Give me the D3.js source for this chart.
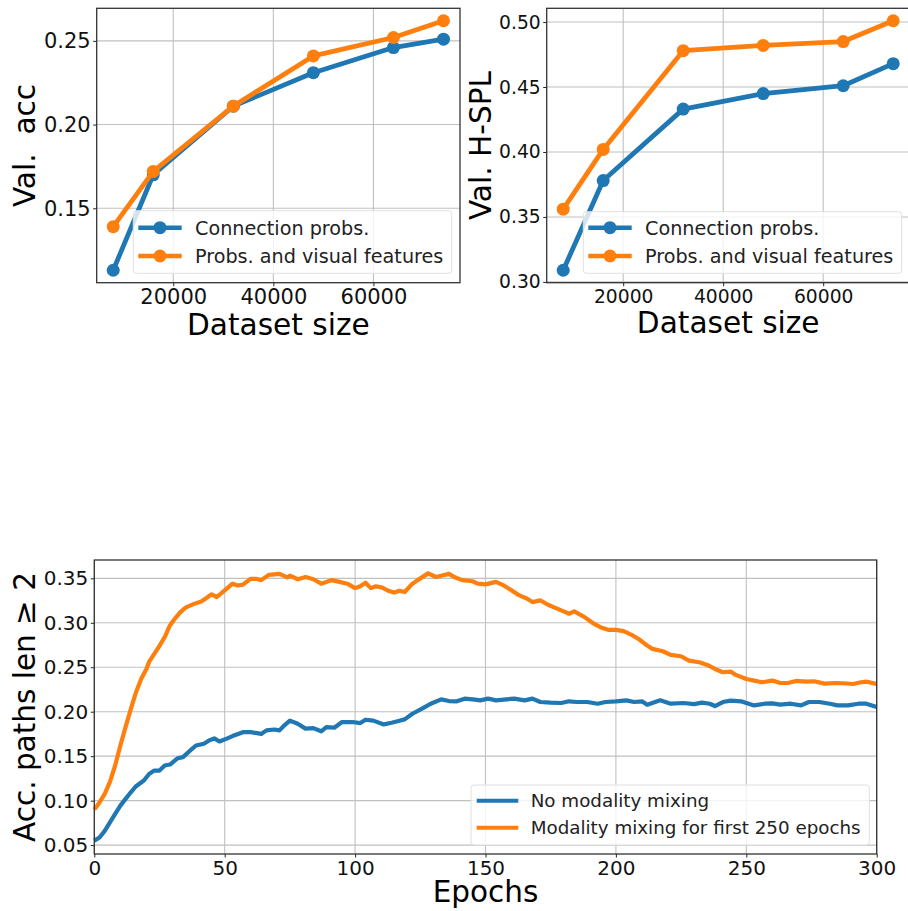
<!DOCTYPE html>
<html>
<head>
<meta charset="utf-8">
<script src="https://cdn.jsdelivr.net/npm/d3@7"></script>
<style>
  html, body { margin: 0; padding: 0; background: #fff; overflow: hidden; }
  svg { display: block; font-family: "DejaVu Sans", sans-serif; }
</style>
</head>
<body>
<svg id="chart" width="908" height="911"></svg>
<script>
// ---------- DATA ----------
const datasetSizes = [8000, 16000, 32000, 48000, 64000, 74000];
const accConnProbs = [0.113, 0.170, 0.211, 0.231, 0.246, 0.251];
const accProbsVisual = [0.139, 0.172, 0.211, 0.241, 0.252, 0.262];
const hsplConnProbs = [0.309, 0.378, 0.433, 0.445, 0.451, 0.468];
const hsplProbsVisual = [0.356, 0.402, 0.478, 0.482, 0.485, 0.501];
const topLegendLabels = ["Connection probs.", "Probs. and visual features"];
const sizeTicks = [20000, 40000, 60000];
const accTicks = [0.15, 0.20, 0.25];
const hsplTicks = [0.30, 0.35, 0.40, 0.45, 0.50];

const noMixEpochs = [0,2,4,6,8,10,12,14,16,19,21,23,25,27,29,32,34,37,39,42,44,46,48,51,53,57,60,64,66,69,71,73,75,78,81,84,87,89,92,95,99,102,104,107,111,114,117,119,122,126,129,133,136,139,142,146,148,151,154,158,161,165,168,171,175,179,182,185,189,193,196,200,204,207,210,212,217,221,226,230,233,236,238,241,244,248,250,253,257,260,263,267,271,274,278,282,285,289,293,296,300];
const noMixValues = [0.055,0.0586,0.066,0.0756,0.085,0.0944,0.102,0.1094,0.1162,0.1226,0.130,0.1338,0.1338,0.1395,0.1406,0.1477,0.1489,0.157,0.162,0.164,0.1677,0.170,0.1665,0.170,0.1726,0.177,0.177,0.175,0.179,0.180,0.179,0.185,0.190,0.1865,0.181,0.1816,0.178,0.1827,0.182,0.1884,0.1884,0.1872,0.191,0.190,0.1857,0.1876,0.1898,0.1914,0.1977,0.204,0.209,0.2139,0.212,0.2117,0.2147,0.2135,0.2128,0.2147,0.2128,0.2139,0.2147,0.2128,0.2147,0.2109,0.2102,0.2098,0.2117,0.2109,0.2109,0.209,0.2109,0.2117,0.2128,0.2109,0.2117,0.2079,0.2128,0.209,0.2098,0.2086,0.2102,0.209,0.2064,0.2109,0.2124,0.2117,0.2098,0.2071,0.209,0.2094,0.2079,0.209,0.2071,0.2109,0.2109,0.209,0.2071,0.2071,0.209,0.209,0.2053];

const mixEpochs = [0,2,4,6,8,10,12,14,16,18,20,21,23,25,27,29,31,33,35,38,41,43,45,47,50,53,55,57,60,62,64,67,71,74,75,78,81,84,87,91,94,97,100,102,104,106,108,110,113,115,117,119,122,124,128,131,133,136,138,141,145,147,150,154,157,160,163,166,168,171,174,177,180,182,184,188,191,194,197,200,203,206,209,212,214,218,221,225,228,232,235,238,241,244,246,250,253,256,260,263,266,269,273,276,280,284,287,291,294,296,300];
const mixValues = [0.090,0.098,0.1075,0.121,0.1395,0.162,0.183,0.203,0.222,0.237,0.248,0.256,0.265,0.274,0.284,0.297,0.305,0.312,0.317,0.321,0.324,0.328,0.332,0.329,0.3365,0.344,0.342,0.343,0.3495,0.3495,0.348,0.354,0.355,0.351,0.353,0.349,0.3515,0.349,0.344,0.348,0.346,0.344,0.339,0.341,0.345,0.339,0.341,0.340,0.3357,0.334,0.336,0.3346,0.344,0.348,0.3556,0.3515,0.353,0.355,0.3515,0.348,0.3467,0.344,0.3432,0.346,0.342,0.3365,0.3308,0.327,0.3233,0.3252,0.3203,0.3165,0.3128,0.3102,0.3128,0.3064,0.300,0.2951,0.2921,0.2921,0.2906,0.2865,0.2812,0.2744,0.2707,0.268,0.2639,0.2624,0.2575,0.2556,0.2526,0.2481,0.2444,0.2451,0.2414,0.2368,0.235,0.2331,0.235,0.2323,0.2323,0.2346,0.2338,0.2342,0.2316,0.2323,0.232,0.2312,0.2331,0.2338,0.2312];
const bottomLegendLabels = ["No modality mixing", "Modality mixing for first 250 epochs"];
const epochTicks = [0, 50, 100, 150, 200, 250, 300];
const pathAccTicks = [0.05, 0.10, 0.15, 0.20, 0.25, 0.30, 0.35];

// ---------- STYLE ----------
const BLUE = "#1f77b4", ORANGE = "#ff7f0e";
const svg = d3.select("#chart");

function padded(vals, frac) {
  const lo = d3.min(vals), hi = d3.max(vals), p = (hi - lo) * frac;
  return [lo - p, hi + p];
}

function drawFrame(g, x, y, xTicks, yTicks, xFmt, yFmt, tickFont) {
  const [x0, x1] = x.range(), [y0, y1] = y.range();
  g.append("g").selectAll("line").data(xTicks).join("line")
    .attr("x1", d => x(d)).attr("x2", d => x(d)).attr("y1", y0).attr("y2", y1)
    .attr("stroke", "#c0c0c0").attr("stroke-width", 1.1);
  g.append("g").selectAll("line").data(yTicks).join("line")
    .attr("y1", d => y(d)).attr("y2", d => y(d)).attr("x1", x0).attr("x2", x1)
    .attr("stroke", "#c0c0c0").attr("stroke-width", 1.1);
  const ax = g.append("g").attr("transform", `translate(0,${y0})`)
    .call(d3.axisBottom(x).tickValues(xTicks).tickFormat(xFmt).tickSize(3.5).tickPadding(3.2).tickSizeOuter(0));
  const ay = g.append("g").attr("transform", `translate(${x0},0)`)
    .call(d3.axisLeft(y).tickValues(yTicks).tickFormat(yFmt).tickSize(3.5).tickPadding(2.5).tickSizeOuter(0));
  [ax, ay].forEach(a => {
    a.select(".domain").remove();
    a.selectAll("line").attr("stroke", "#222");
    a.selectAll("text").attr("font-size", tickFont).attr("fill", "#111")
      .attr("font-family", "DejaVu Sans");
  });
}

function drawSpines(g, x, y) {
  const [x0, x1] = x.range(), [y0, y1] = y.range();
  g.append("rect").attr("x", x0).attr("y", y1).attr("width", x1 - x0).attr("height", y0 - y1)
    .attr("fill", "none").attr("stroke", "#333").attr("stroke-width", 1.3);
}

function legend(g, bx, by, bw, bh, rows, items, withMarker, fontSize, textX, lineX0, lineX1) {
  g.append("rect").attr("x", bx).attr("y", by).attr("width", bw).attr("height", bh)
    .attr("rx", 3).attr("fill", "#fff").attr("fill-opacity", 0.8)
    .attr("stroke", "#e0e0e0").attr("stroke-width", 1);
  items.forEach((it, i) => {
    const ry = rows[i];
    g.append("line").attr("x1", lineX0).attr("x2", lineX1).attr("y1", ry).attr("y2", ry)
      .attr("stroke", it.color).attr("stroke-width", withMarker ? 4.5 : 4);
    if (withMarker) g.append("circle").attr("cx", (lineX0 + lineX1) / 2).attr("cy", ry).attr("r", 6.5).attr("fill", it.color);
    g.append("text").attr("x", textX).attr("y", ry).attr("dy", "0.36em")
      .attr("font-size", fontSize).attr("fill", "#222").text(it.label);
  });
}

function label(g, text, x, y, rot, size) {
  g.append("text").attr("transform", `translate(${x},${y}) rotate(${rot})`)
    .attr("text-anchor", "middle").attr("font-size", size).attr("fill", "#000")
    .style("white-space", "pre").text(text);
}

function topChart(left, right, yVals1, yVals2, yTicks, tickFont, ylab, ylabX, xlabY, legBox, legText, legLine) {
  const g = svg.append("g");
  const x = d3.scaleLinear().domain(padded(datasetSizes, 0.05)).range([left, right]);
  const y = d3.scaleLinear().domain(padded(yVals1.concat(yVals2), 0.05)).range([282.7, 8.3]);
  drawFrame(g, x, y, sizeTicks, yTicks, d3.format("d"), d3.format(".2f"), tickFont);
  const line = d3.line().x(d => x(d[0])).y(d => y(d[1]));
  [[yVals1, BLUE], [yVals2, ORANGE]].forEach(([vals, c]) => {
    const pts = datasetSizes.map((s, i) => [s, vals[i]]);
    g.append("path").datum(pts).attr("d", line).attr("fill", "none")
      .attr("stroke", c).attr("stroke-width", 4.8).attr("stroke-linejoin", "round");
    g.append("g").selectAll("circle").data(pts).join("circle")
      .attr("cx", d => x(d[0])).attr("cy", d => y(d[1])).attr("r", 6.5).attr("fill", c);
  });
  legend(g, legBox[0], legBox[1], legBox[2], legBox[3], [227.7, 256],
    [{label: topLegendLabels[0], color: BLUE}, {label: topLegendLabels[1], color: ORANGE}],
    true, 19.2, legText, legLine[0], legLine[1]);
  drawSpines(g, x, y);
  label(g, ylab, ylabX, (282.7 + 8.3) / 2, -90, 29.6);
  label(g, "Dataset size", (left + right) / 2, xlabY, 0, 29.6);
}

topChart(96.7, 460, accConnProbs, accProbsVisual, accTicks, 21, "Val.\u00a0 acc", 35, 335,
  [133.3, 210.7, 318.4, 62.6], 195, [138.3, 181.7]);
topChart(546.7, 909.7, hsplConnProbs, hsplProbsVisual, hsplTicks, 18.7, "Val. H-SPL", 491, 333,
  [583.3, 211.7, 318.4, 61.6], 645, [588.3, 631.7]);

// ---------- bottom chart ----------
{
  const g = svg.append("g");
  const x = d3.scaleLinear().domain([0, 300]).range([94.3, 876.7]);
  const y = d3.scaleLinear().domain(padded(noMixValues.concat(mixValues), 0.05)).range([854, 560]);
  drawFrame(g, x, y, epochTicks, pathAccTicks, d3.format("d"), d3.format(".2f"), 20);
  const line = d3.line().x(d => x(d[0])).y(d => y(d[1]));
  [[noMixEpochs, noMixValues, BLUE], [mixEpochs, mixValues, ORANGE]].forEach(([ep, vals, c]) => {
    g.append("path").datum(ep.map((e, i) => [e, vals[i]])).attr("d", line)
      .attr("fill", "none").attr("stroke", c).attr("stroke-width", 4.2)
      .attr("stroke-linejoin", "round").attr("stroke-linecap", "butt");
  });
  legend(g, 471, 785, 398.3, 60, [800.7, 827.7],
    [{label: bottomLegendLabels[0], color: BLUE}, {label: bottomLegendLabels[1], color: ORANGE}],
    false, 18.3, 530.7, 476.7, 518.3);
  drawSpines(g, x, y);
  label(g, "Acc. paths len \u2265 2", 34.5, 707, -90, 29.5);
  label(g, "Epochs", (94.3 + 876.7) / 2, 901.7, 0, 29.5);
}
</script>
</body>
</html>
